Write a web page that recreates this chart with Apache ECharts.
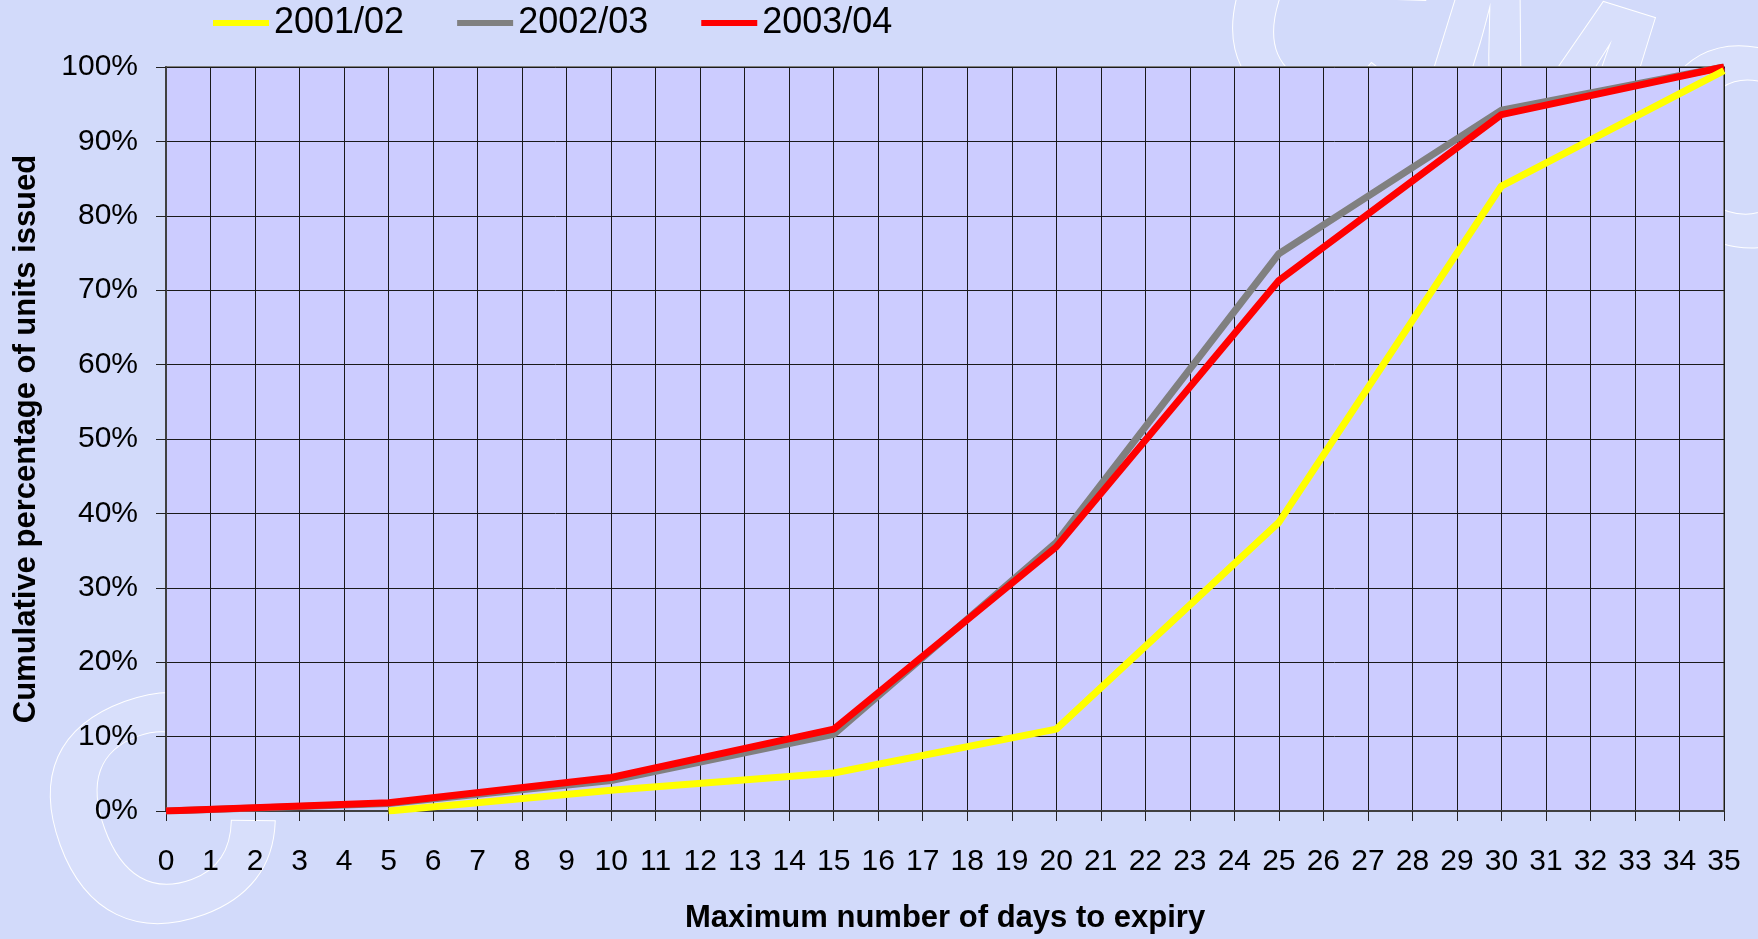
<!DOCTYPE html>
<html>
<head>
    <meta charset="utf-8">
    <title>Cumulative percentage of units issued</title>
    <script src="https://cdn.jsdelivr.net/npm/echarts@6/dist/echarts.min.js"></script>
    <style>
        html, body {
            margin: 0;
            padding: 0;
            background-color: #D2DAFA;
        }

        #main {
            width: 1758px;
            height: 939px;
        }
    </style>
</head>
<body>
<div id="main"></div>
<script>
    // 数据 (values in %)
    var days = [0, 5, 10, 15, 20, 25, 30, 35];
    var names = ['2001/02', '2002/03', '2003/04'];
    var y0102 = [null, 0, 2.8, 5.1, 11, 38.8, 84, 99.5];
    var y0203 = [0, 1.0, 4.1, 10.3, 36.1, 74.9, 94.2, 100];
    var y0304 = [0, 1.1, 4.5, 11, 35.5, 71.3, 93.6, 100];

    var font = "'Liberation Sans', Arial, sans-serif";

    function pairs(vals) {
        var out = [];
        for (var i = 0; i < days.length; i++) {
            if (vals[i] !== null) {
                out.push([days[i], vals[i]]);
            }
        }
        return out;
    }

    var chart = echarts.init(document.getElementById('main'));

    var option = {
        animation: false,
        backgroundColor: '#D2DAFA',
        textStyle: {fontFamily: font},
        // watermark letters behind the plot
        graphic: [
            {
                type: 'text', z: -10, left: 1180, top: -130, rotation: -0.3,
                style: {
                    text: 'CMC', font: 'bold 280px ' + font,
                    fill: '#D8DFFB', stroke: '#ffffff', lineWidth: 2
                }
            },
            {
                type: 'text', z: -10, left: 0, top: 640, rotation: 0.35,
                style: {
                    text: 'C', font: 'bold 320px ' + font,
                    fill: '#D8DFFB', stroke: '#ffffff', lineWidth: 2
                }
            }
        ],
        legend: {
            data: names,
            left: 208,
            top: 0,
            icon: 'rect',
            itemWidth: 56,
            itemHeight: 6,
            itemGap: 53,
            textStyle: {fontSize: 36, color: '#000', fontFamily: font}
        },
        grid: {
            left: 166,
            right: 34,
            top: 67,
            bottom: 122,
            show: true,
            backgroundColor: '#CCCCFF',
            borderColor: '#808080',
            borderWidth: 2
        },
        xAxis: {
            type: 'value',
            min: 0,
            max: 35,
            interval: 1,
            name: 'Maximum number of days to expiry',
            nameLocation: 'middle',
            nameGap: 92,
            nameTextStyle: {fontSize: 31, fontWeight: 'bold', color: '#000', fontFamily: font},
            axisLine: {lineStyle: {color: '#404040', width: 2}},
            axisTick: {show: true, length: 10, inside: false, lineStyle: {color: '#222', width: 1}},
            axisLabel: {fontSize: 30, color: '#000', margin: 36, fontFamily: font},
            splitLine: {show: true, lineStyle: {color: '#1a1a1a', width: 1}}
        },
        yAxis: {
            type: 'value',
            min: 0,
            max: 100,
            interval: 10,
            name: 'Cumulative percentage of units issued',
            nameLocation: 'middle',
            nameGap: 124,
            nameTextStyle: {fontSize: 31, fontWeight: 'bold', color: '#000', fontFamily: font},
            axisLine: {show: true, lineStyle: {color: '#404040', width: 2}},
            axisTick: {show: true, length: 10, inside: false, lineStyle: {color: '#222', width: 1}},
            axisLabel: {fontSize: 30, color: '#000', margin: 28, formatter: '{value}%', fontFamily: font},
            splitLine: {show: true, lineStyle: {color: '#1a1a1a', width: 1}}
        },
        series: [
            {
                name: names[0], type: 'line', data: pairs(y0102), z: 4,
                showSymbol: false, symbol: 'none',
                lineStyle: {color: '#FFFF00', width: 7},
                itemStyle: {color: '#FFFF00'}
            },
            {
                name: names[1], type: 'line', data: pairs(y0203), z: 2,
                showSymbol: false, symbol: 'none',
                lineStyle: {color: '#808080', width: 7},
                itemStyle: {color: '#808080'}
            },
            {
                name: names[2], type: 'line', data: pairs(y0304), z: 3,
                showSymbol: false, symbol: 'none',
                lineStyle: {color: '#FF0000', width: 7},
                itemStyle: {color: '#FF0000'}
            }
        ]
    };
    chart.setOption(option);

    window.onresize = function () {
        chart.resize();
    }
</script>
</body>
</html>
